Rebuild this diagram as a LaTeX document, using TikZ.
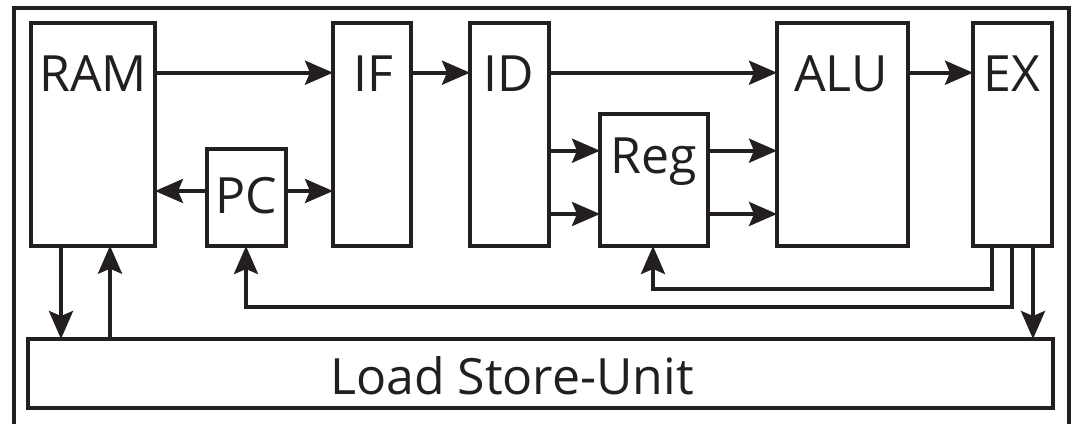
\documentclass[tikz,border=0pt]{standalone}
\usepackage{fontspec}
\setmainfont{Open Sans}
\usetikzlibrary{arrows.meta}
\definecolor{ink}{HTML}{231F20}
\tikzset{
  box/.style={draw=ink, line width=4pt, fill=white, inner sep=0pt, outer sep=0pt, anchor=north west},
  lbl/.style={text=ink, anchor=base, inner sep=0pt, font=\fontsize{50pt}{60pt}\selectfont},
  conn/.style={draw=ink, line width=3.8pt},
  arr/.style={conn, -{Stealth[length=28pt, width=24pt, inset=5pt]}}
}
\begin{document}
\begin{tikzpicture}[x=1pt, y=-1pt]
\useasboundingbox[fill=white] (0,0) rectangle (1073,423);
% outer frame (open at the bottom)
\draw[draw=ink, line width=4.2pt] (14,425) -- (14,8) -- (1069,8) -- (1069,425);
% boxes
\node[box, minimum width=124pt, minimum height=223pt] (ram) at (31,22.7) {};
\node[box, minimum width=79pt, minimum height=97pt] (pc) at (207,149) {};
\node[box, minimum width=78pt, minimum height=223pt] (if) at (333,22.7) {};
\node[box, minimum width=79pt, minimum height=223pt] (id) at (470,22.7) {};
\node[box, minimum width=108pt, minimum height=132pt] (reg) at (600,114) {};
\node[box, minimum width=131pt, minimum height=223pt] (alu) at (777,22.7) {};
\node[box, minimum width=79pt, minimum height=223pt] (ex) at (973,22.7) {};
\node[box, minimum width=1025pt, minimum height=69pt] (lsu) at (28,339) {};
% labels
\node[lbl] (ramt) at (93,91) {RAM};
\node[lbl] (pct) at (246,213) {PC};
\node[lbl] (ift) at (373,91) {IF};
\node[lbl] (idt) at (509,91) {ID};
\node[lbl] (regt) at (654,173) {Reg};
\node[lbl] (alut) at (841,91) {ALU};
\node[lbl] (ext) at (1012,91) {EX};
\node[lbl] (lsut) at (512,394) {Load Store-Unit};
% coordinates for the feedback routes
\coordinate (c1) at (992,289);
\coordinate (c2) at (653,289);
\coordinate (d1) at (1012,307);
\coordinate (d2) at (246,307);
% connectors
\draw[arr] (ram.east |- 0,72.7) -- (if.west |- 0,72.7);
\draw[arr] (if.east |- 0,72.7) -- (id.west |- 0,72.7);
\draw[arr] (id.east |- 0,72.7) -- (alu.west |- 0,72.7);
\draw[arr] (alu.east |- 0,72.7) -- (ex.west |- 0,72.7);
\draw[arr] (pc.west |- 0,191) -- (ram.east |- 0,191);
\draw[arr] (pc.east |- 0,191) -- (if.west |- 0,191);
\draw[arr] (id.east |- 0,150.7) -- (reg.west |- 0,150.7);
\draw[arr] (id.east |- 0,214) -- (reg.west |- 0,214);
\draw[arr] (reg.east |- 0,150.7) -- (alu.west |- 0,150.7);
\draw[arr] (reg.east |- 0,214) -- (alu.west |- 0,214);
\draw[arr] (ram.south -| 61,0) -- (lsu.north -| 61,0);
\draw[arr] (lsu.north -| 110,0) -- (ram.south -| 110,0);
\draw[arr] (ex.south -| c1) -- (c1) -- (c2) -- (reg.south -| c2);
\draw[arr] (ex.south -| d1) -- (d1) -- (d2) -- (pc.south -| d2);
\draw[arr] (ex.south -| 1033,0) -- (lsu.north -| 1033,0);
\end{tikzpicture}
\end{document}
